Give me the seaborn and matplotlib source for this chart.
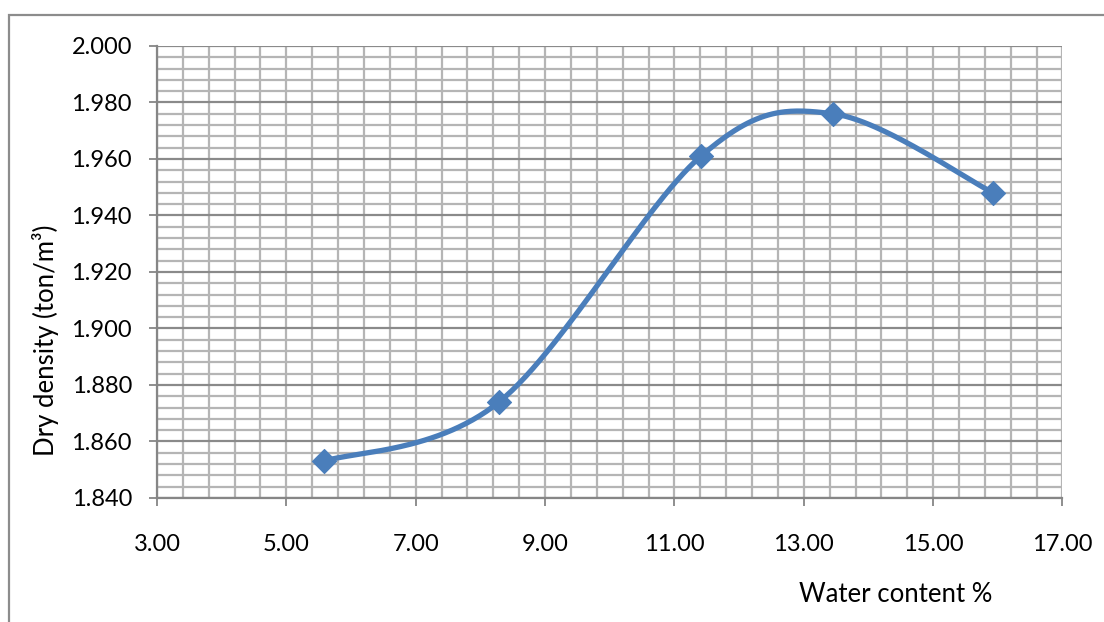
import numpy as np
import pandas as pd
import seaborn as sns
import matplotlib
matplotlib.use("Agg")
import matplotlib.pyplot as plt
from matplotlib.ticker import MultipleLocator, FormatStrFormatter
from matplotlib.patches import Rectangle

# Compaction test results
water_content = [5.58, 8.29, 11.41, 13.45, 15.93]
dry_density = [1.853, 1.874, 1.961, 1.976, 1.948]

x_ticks = [3, 5, 7, 9, 11, 13, 15, 17]
y_ticks = [1.84, 1.86, 1.88, 1.90, 1.92, 1.94, 1.96, 1.98, 2.00]

x_label = "Water content %"
y_label = "Dry density (ton/m³)"


def smooth_curve(xs, ys, n=60):
    """Catmull-Rom style Bezier smoothing through every point."""
    pts = np.column_stack([xs, ys]).astype(float)
    padded = np.vstack([pts[0], pts, pts[-1]])
    out = []
    t = np.linspace(0, 1, n)[:, None]
    for i in range(len(pts) - 1):
        p0, p1 = padded[i + 1], padded[i + 2]
        c1 = p0 + (padded[i + 2] - padded[i]) / 6.0
        c2 = p1 - (padded[i + 3] - padded[i + 1]) / 6.0
        seg = ((1 - t) ** 3) * p0 + 3 * ((1 - t) ** 2) * t * c1 \
            + 3 * (1 - t) * t ** 2 * c2 + t ** 3 * p1
        out.append(seg if i == 0 else seg[1:])
    curve = np.vstack(out)
    return pd.DataFrame({"w": curve[:, 0], "d": curve[:, 1]})


points = pd.DataFrame({"w": water_content, "d": dry_density})
curve = smooth_curve(water_content, dry_density)

sns.set_theme(style="white")
plt.rcParams["font.family"] = ["Lato", "DejaVu Sans"]

fig = plt.figure(figsize=(11.04, 6.22), dpi=100)
ax = fig.add_axes([0.1422, 0.1994, 0.8202, 0.7267])

blue = "#4A7EBB"
sns.lineplot(data=curve, x="w", y="d", ax=ax, color=blue, linewidth=3.8,
             sort=False, zorder=3)
sns.scatterplot(data=points, x="w", y="d", ax=ax, marker="D", s=150,
                color=blue, edgecolor=blue, linewidth=0.8, zorder=4)

ax.set_xlim(x_ticks[0], x_ticks[-1])
ax.set_ylim(y_ticks[0], y_ticks[-1])
ax.set_xticks(x_ticks)
ax.set_yticks(y_ticks)
ax.xaxis.set_minor_locator(MultipleLocator(0.4, offset=0.2))
ax.yaxis.set_minor_locator(MultipleLocator(0.004))
ax.xaxis.set_major_formatter(FormatStrFormatter("%.2f"))
ax.yaxis.set_major_formatter(FormatStrFormatter("%.3f"))

ax.grid(which="minor", axis="both", color="#B5B5B5", linewidth=1.6)
ax.grid(which="major", axis="x", color="#B5B5B5", linewidth=1.6)
ax.grid(which="major", axis="y", color="#8A8A8A", linewidth=1.6)
ax.set_axisbelow(True)

for side in ("top", "right"):
    ax.spines[side].set_visible(False)
for side in ("left", "bottom"):
    ax.spines[side].set_color("#868686")
    ax.spines[side].set_linewidth(1.6)

ax.tick_params(axis="both", which="major", direction="out", length=6,
               width=1.3, color="#868686", labelsize=17, labelcolor="black",
               left=True, bottom=True)
ax.tick_params(axis="y", pad=12)
ax.tick_params(axis="x", pad=20)
ax.tick_params(which="minor", length=0)

ax.set_xlabel("")
ax.set_ylabel("")
fig.text(0.041, 0.453, y_label, rotation=90, ha="center", va="center",
         fontsize=18.5, color="black")
fig.text(0.8116, 0.0322, x_label, ha="center", va="baseline",
         fontsize=18.5, color="black")

# chart area frame
fig.patches.append(Rectangle((9 / 1104, -0.1), 1.2, (607 / 622) + 0.1,
                             transform=fig.transFigure, fill=False,
                             edgecolor="#8C8C8C", linewidth=1.6))

fig.savefig("out.png", dpi=100)
